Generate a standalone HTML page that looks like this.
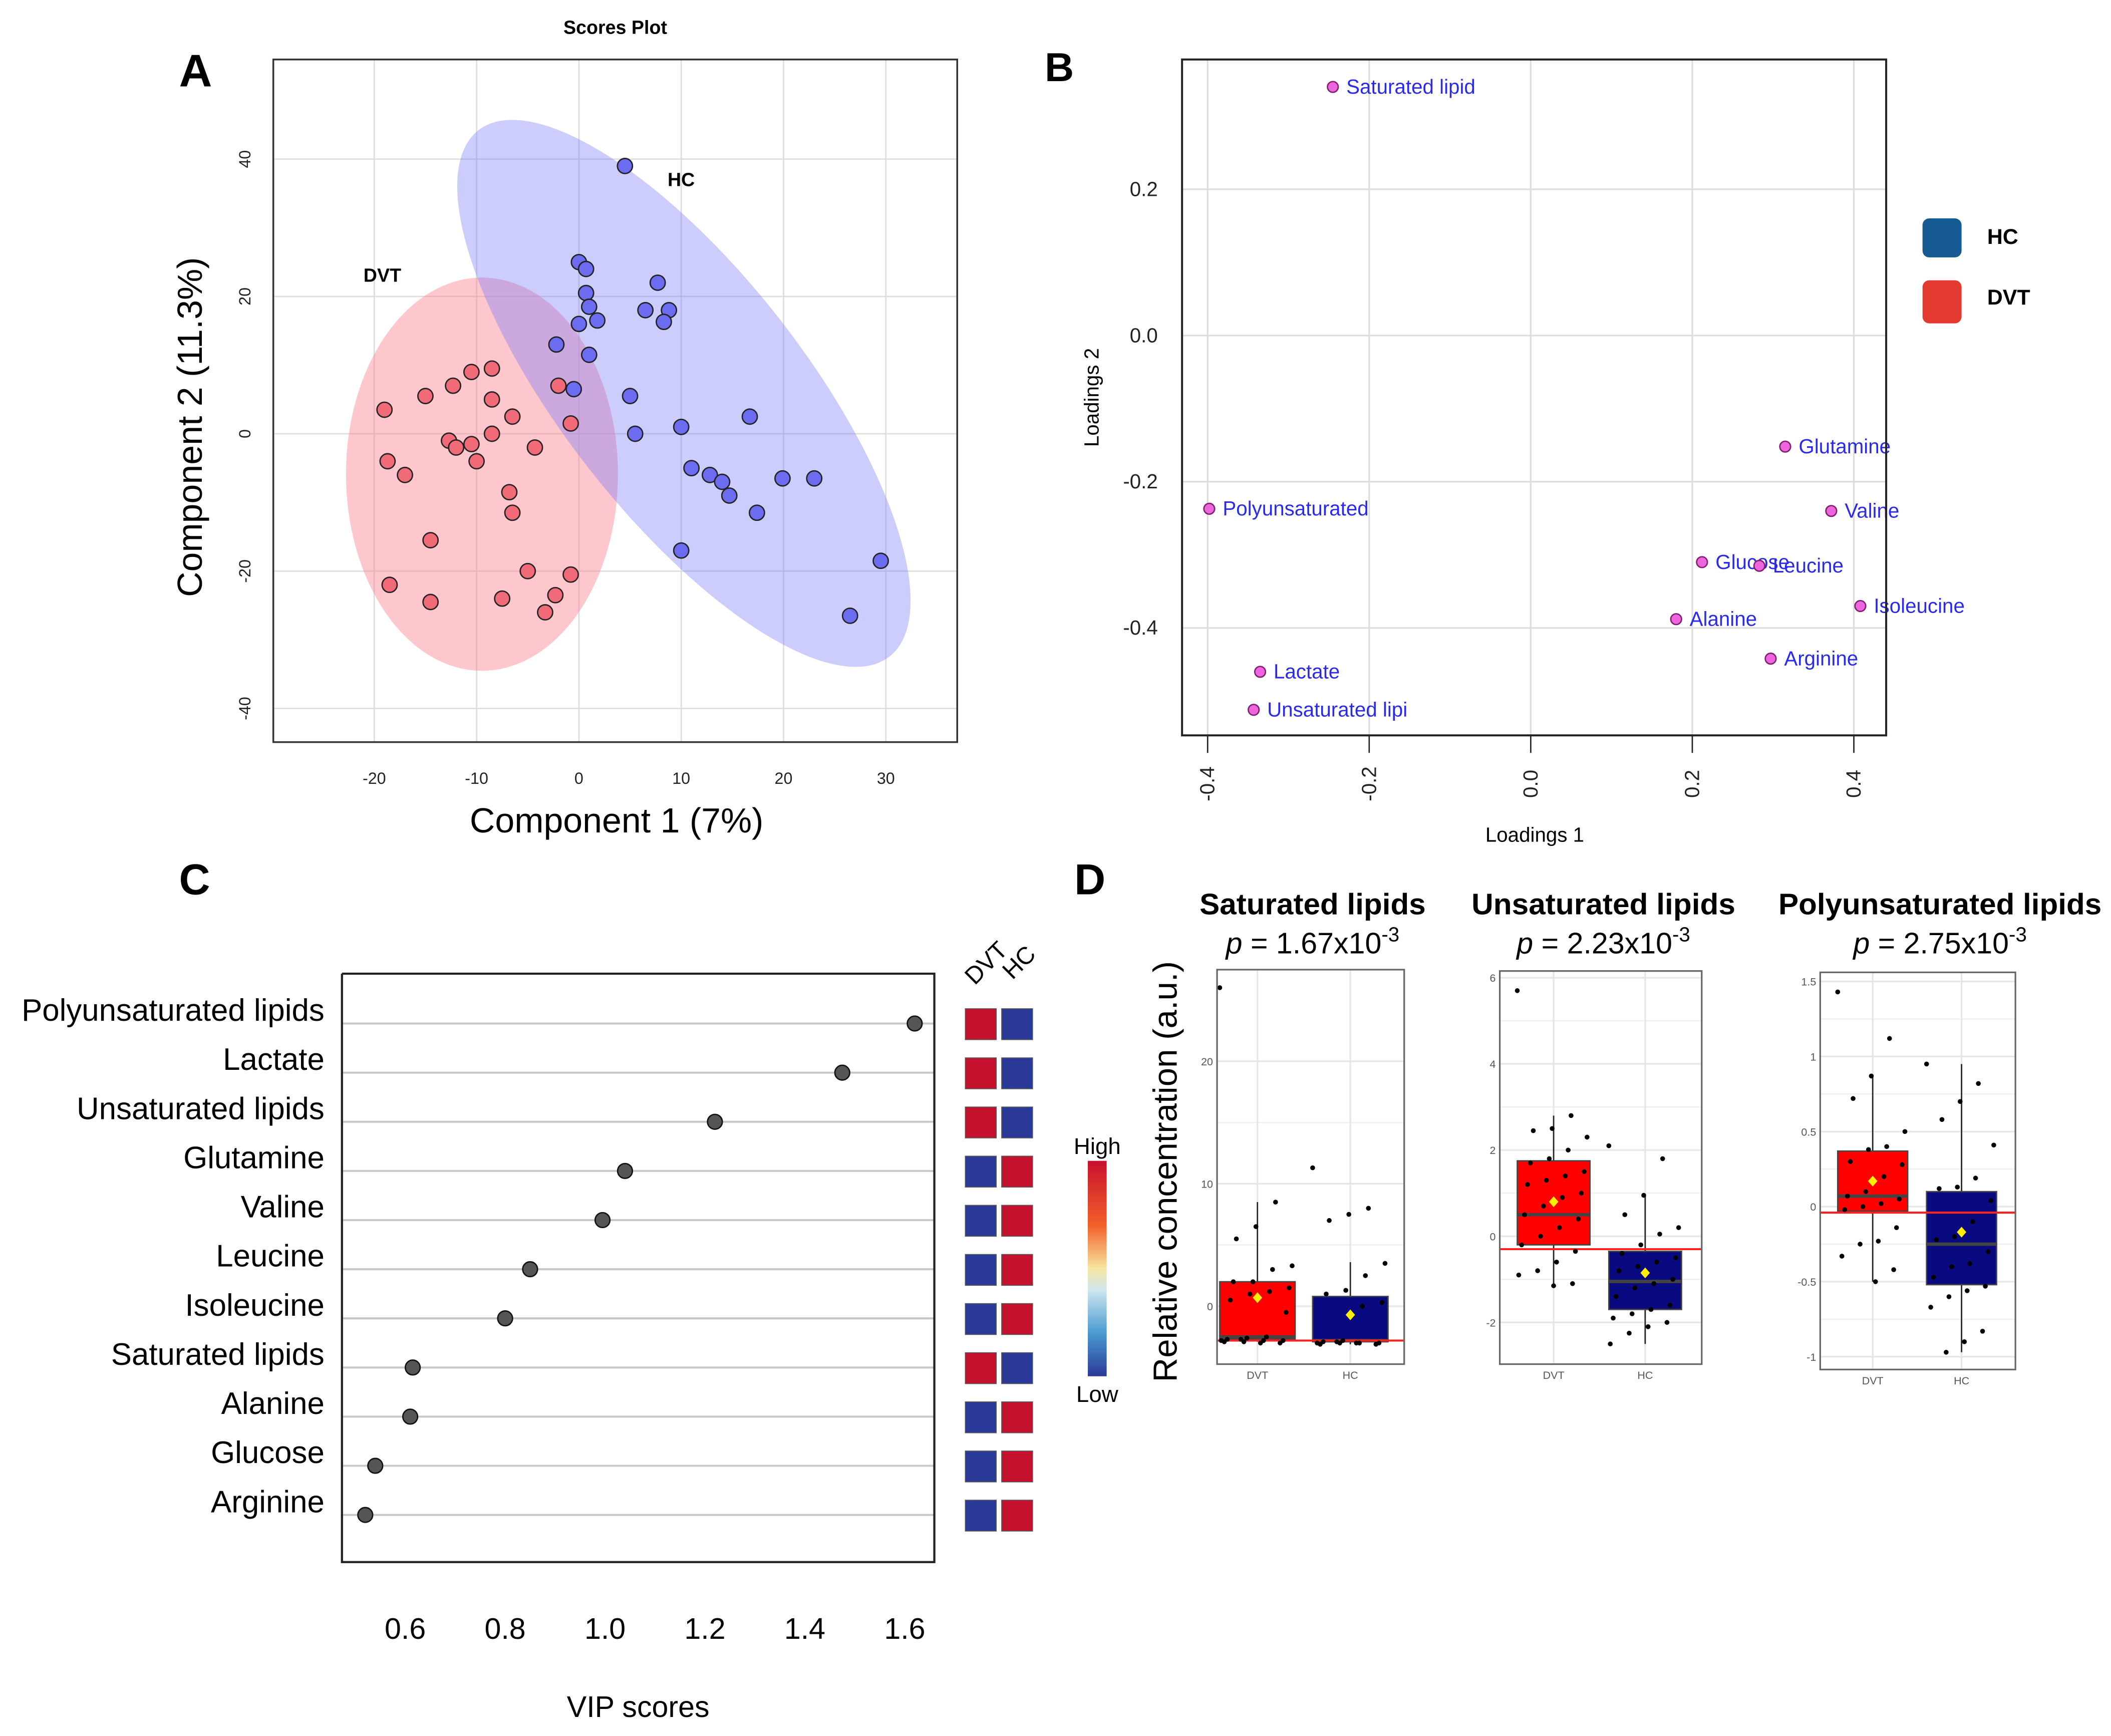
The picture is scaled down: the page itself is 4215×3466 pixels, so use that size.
<!DOCTYPE html>
<html><head><meta charset="utf-8"><style>
html,body{margin:0;padding:0;background:#fff;}
svg{display:block;font-family:"Liberation Sans",sans-serif;}
</style></head><body>
<svg id="fig" width="4215" height="3466" viewBox="0 0 1568 1289" xmlns="http://www.w3.org/2000/svg">
<rect width="1568" height="1289" fill="#fff"/>
<text x="133" y="64" font-size="34" font-weight="bold">A</text>
<text x="776" y="60" font-size="30" font-weight="bold">B</text>
<text x="133" y="664" font-size="32" font-weight="bold">C</text>
<text x="798" y="664" font-size="32" font-weight="bold">D</text>
<g id="A"></g><g id="B"></g><g id="C"></g><g id="D"></g>
</svg>
<script>
const NS="http://www.w3.org/2000/svg";
function mk(tag,attrs,parent,txt){const e=document.createElementNS(NS,tag);for(const k in attrs)e.setAttribute(k,attrs[k]);if(txt!==undefined)e.textContent=txt;parent.appendChild(e);return e;}

/* ---------- Panel A data ---------- */
const dvtX=[-19,-18.7,-17,-18.5,-15,-14.5,-14.5,-12.3,-12.7,-12,-10.5,-10.5,-10,-8.5,-8.5,-8.5,-6.5,-6.8,-6.5,-7.5,-5,-4.3,-3.3,-2.3,-0.8,-0.8,-2];
const dvtY=[3.5,-4,-6,-22,5.5,-15.5,-24.5,7,-1,-2,9,-1.5,-4,9.5,5,0,2.5,-8.5,-11.5,-24,-20,-2,-26,-23.5,-20.5,1.5,7];
const hcX=[4.5,0,0.7,0.7,1,0,1.8,-2.2,1,-0.5,5,5.5,7.7,6.5,8.8,8.3,10,11,12.8,14,14.7,17.4,16.7,19.9,23,10,29.5,26.5];
const hcY=[39,25,24,20.5,18.5,16,16.5,13,11.5,6.5,5.5,0,22,18,18,16.3,1,-5,-6,-7,-9,-11.5,2.5,-6.5,-6.5,-17,-18.5,-26.5];
const aXTicks=[-20,-10,0,10,20,30];
const aYTicks=[-40,-20,0,20,40];

/* ---------- Panel B data ---------- */
const loadNames=["Saturated lipid","Polyunsaturated","Lactate","Unsaturated lipi","Glutamine","Valine","Glucose","Leucine","Isoleucine","Alanine","Arginine"];
const load1=[-0.245,-0.398,-0.335,-0.343,0.315,0.372,0.212,0.283,0.408,0.18,0.297];
const load2=[0.34,-0.237,-0.46,-0.512,-0.152,-0.24,-0.31,-0.315,-0.37,-0.388,-0.442];
const bXTicks=[-0.4,-0.2,0.0,0.2,0.4];
const bYTicks=[0.2,0.0,-0.2,-0.4];

/* ---------- Panel C data ---------- */
const vipNames=["Polyunsaturated lipids","Lactate","Unsaturated lipids","Glutamine","Valine","Leucine","Isoleucine","Saturated lipids","Alanine","Glucose","Arginine"];
const vipScores=[1.62,1.475,1.22,1.04,0.995,0.85,0.80,0.615,0.61,0.54,0.52];
const vipDvtHigh=[1,1,1,0,0,0,0,1,0,0,0];
const vipTicks=[0.6,0.8,1.0,1.2,1.4,1.6];

/* ---------- Panel D data ---------- */
const dTitles=["Saturated lipids","Unsaturated lipids","Polyunsaturated lipids"];
const dP=["1.67","2.23","2.75"];
const dTicks=[[0,10,20],[-2,0,2,4,6],[-1.0,-0.5,0.0,0.5,1.0,1.5]];
const dDvtBox=[[-2.7,-2.5,2.0,-2.9,8.5,0.7],[-0.2,0.5,1.75,-1.1,2.8,0.8],[-0.03,0.07,0.37,-0.5,0.87,0.17]];
const dHcBox=[[-2.9,-2.8,0.8,-3.1,3.6,-0.7],[-1.7,-1.05,-0.35,-2.5,0.95,-0.85],[-0.52,-0.25,0.1,-0.97,0.95,-0.17]];
const dRedLine=[-2.8,-0.3,-0.04];
const dDvtPts=[[26,8.5,6.5,5.5,3.3,3,2,2,1.5,1.2,1,0.5,-0.5,-2.5,-2.6,-2.7,-2.8,-2.8,-2.9,-2.9,-3,-3,-2.7,-2.8],
 [5.7,2.8,2.5,2.45,2.3,2,1.8,1.7,1.5,1.4,1.3,1.2,1.0,0.9,0.7,0.5,0.4,0.2,0,-0.2,-0.35,-0.6,-0.8,-0.9,-1.1,-1.15],
 [1.43,1.12,0.87,0.72,0.5,0.4,0.38,0.3,0.28,0.2,0.1,0.07,0.05,0.02,0,-0.02,-0.14,-0.23,-0.25,-0.33,-0.42,-0.5]];
const dHcPts=[[11.3,8,7.5,7,3.5,2.5,1.3,1,0.3,0,-2.8,-2.9,-3,-3,-3,-3.1,-3.1,-3,-2.9,-3],
 [2.1,1.8,0.95,0.5,0.2,0.05,-0.2,-0.4,-0.5,-0.6,-0.7,-0.8,-1,-1.1,-1.2,-1.4,-1.6,-1.7,-1.8,-1.9,-2.0,-2.1,-2.25,-2.5],
 [0.95,0.82,0.7,0.58,0.41,0.19,0.13,0.12,0.04,-0.1,-0.2,-0.22,-0.3,-0.38,-0.4,-0.47,-0.53,-0.56,-0.6,-0.67,-0.83,-0.9,-0.97]];

/* ================= Panel A ================= */
(function(){
const g=document.getElementById('A');
const L=203,R=711,T=44,B=551;
const sx=v=>430+v*7.6, sy=v=>322-v*5.1;
let e;
e=mk('text',{x:457,y:25,'font-size':14,'font-weight':'bold','text-anchor':'middle'},g,'Scores Plot');

aXTicks.forEach(t=>{mk('line',{x1:sx(t),x2:sx(t),y1:T,y2:B,stroke:'#ddd','stroke-width':1},g);
 e=mk('text',{x:sx(t),y:582,'font-size':12,'text-anchor':'middle',fill:'#222'},g,t);
 });
aYTicks.forEach(t=>{mk('line',{x1:L,x2:R,y1:sy(t),y2:sy(t),stroke:'#ddd','stroke-width':1},g);
 e=mk('text',{x:186,y:sy(t),'font-size':12,'text-anchor':'middle',fill:'#222',transform:`rotate(-90 186 ${sy(t)})`},g,t);
 });
e=mk('ellipse',{cx:358,cy:352,rx:101,ry:146,fill:'rgba(250,130,145,0.45)'},g);

e=mk('ellipse',{cx:508,cy:292,rx:248,ry:90,fill:'rgba(120,120,250,0.38)',transform:'rotate(52 508 292)'},g);

dvtX.forEach((x,i)=>{e=mk('circle',{cx:sx(x),cy:sy(dvtY[i]),r:5.6,fill:'#f06a78',stroke:'#222','stroke-width':1},g);
 });
hcX.forEach((x,i)=>{e=mk('circle',{cx:sx(x),cy:sy(hcY[i]),r:5.6,fill:'#6c6cf0',stroke:'#222','stroke-width':1},g);
 });
e=mk('rect',{x:L,y:T,width:R-L,height:B-T,fill:'none',stroke:'#333','stroke-width':1.3},g);

e=mk('text',{x:506,y:138,'font-size':14,'font-weight':'bold','text-anchor':'middle'},g,'HC');

e=mk('text',{x:284,y:209,'font-size':14,'font-weight':'bold','text-anchor':'middle'},g,'DVT');

e=mk('text',{x:458,y:618,'font-size':26,'text-anchor':'middle'},g,'Component 1 (7%)');

e=mk('text',{x:150,y:317,'font-size':26,'text-anchor':'middle',transform:'rotate(-90 150 317)'},g,'Component 2 (11.3%)');

})();

/* ================= Panel B ================= */
(function(){
const g=document.getElementById('B');
const L=878,R=1401,T=44,B=546;
const sx=v=>1137+v*600, sy=v=>249-v*543;
let e;
bXTicks.forEach(t=>{mk('line',{x1:sx(t),x2:sx(t),y1:T,y2:B,stroke:'#ddd','stroke-width':1.2},g);
 mk('line',{x1:sx(t),x2:sx(t),y1:B,y2:B+13,stroke:'#222','stroke-width':1},g);
 e=mk('text',{x:sx(t)+5,y:582,'font-size':15,'text-anchor':'middle',fill:'#222',transform:`rotate(-90 ${sx(t)+5} 582)`},g,t.toFixed(1));
 });
bYTicks.forEach(t=>{mk('line',{x1:L,x2:R,y1:sy(t),y2:sy(t),stroke:'#ddd','stroke-width':1.2},g);
 e=mk('text',{x:860,y:sy(t)+5,'font-size':15,'text-anchor':'end',fill:'#222'},g,t.toFixed(1));
 });
load1.forEach((x,i)=>{e=mk('circle',{cx:sx(x),cy:sy(load2[i]),r:4,fill:'#ee66dd',stroke:'#802070','stroke-width':1},g);
 
 e=mk('text',{x:sx(x)+10,y:sy(load2[i])+5,'font-size':15,fill:'#2a2aee'},g,loadNames[i]);
 });
e=mk('rect',{x:L,y:T,width:R-L,height:B-T,fill:'none',stroke:'#222','stroke-width':1.5},g);

e=mk('text',{x:1140,y:625,'font-size':15,'text-anchor':'middle'},g,'Loadings 1');

e=mk('text',{x:816,y:295,'font-size':15,'text-anchor':'middle',transform:'rotate(-90 816 295)'},g,'Loadings 2');

e=mk('rect',{x:1428,y:162,width:29,height:29,rx:5,fill:'#155a92'},g);

e=mk('text',{x:1476,y:181,'font-size':16,'font-weight':'bold'},g,'HC');

e=mk('rect',{x:1428,y:208,width:29,height:32,rx:5,fill:'#e23a30'},g);

e=mk('text',{x:1476,y:226,'font-size':16,'font-weight':'bold'},g,'DVT');

})();

/* ================= Panel C ================= */
(function(){
const g=document.getElementById('C');
const L=254,R=694,T=723,B=1160;
const sx=v=>301+(v-0.6)*371;
const rowY=i=>760+i*36.5;
let e;
vipNames.forEach((n,i)=>{const y=rowY(i);
 mk('line',{x1:L,x2:R,y1:y,y2:y,stroke:'#c8c8c8','stroke-width':1.5},g);
 e=mk('text',{x:241,y:y-2,'font-size':23,'text-anchor':'end'},g,n);
 
 e=mk('circle',{cx:sx(vipScores[i]),cy:y,r:5.5,fill:'#555',stroke:'#111','stroke-width':1},g);
 
 const red='#c4122e',blue='#2b3a98';
 e=mk('rect',{x:717,y:y-11,width:23,height:23,fill:vipDvtHigh[i]?red:blue,stroke:'#555','stroke-width':0.6},g);
 
 e=mk('rect',{x:744,y:y-11,width:23,height:23,fill:vipDvtHigh[i]?blue:red,stroke:'#555','stroke-width':0.6},g);
 
});
e=mk('polyline',{points:`${L},${T} ${R},${T} ${R},${B} ${L},${B} ${L},${T}`,fill:'none',stroke:'#222','stroke-width':1.6},g);

vipTicks.forEach(t=>{e=mk('text',{x:sx(t),y:1217,'font-size':22,'text-anchor':'middle'},g,t.toFixed(1));
 });
e=mk('text',{x:474,y:1275,'font-size':22,'text-anchor':'middle'},g,'VIP scores');

e=mk('text',{x:724,y:732,'font-size':18,transform:'rotate(-45 724 732)'},g,'DVT');

e=mk('text',{x:752,y:728,'font-size':18,transform:'rotate(-45 752 728)'},g,'HC');

const defs=mk('defs',{},g);
const lg=mk('linearGradient',{id:'cb',x1:0,y1:0,x2:0,y2:1},defs);
[['0','#c8102e'],['0.3','#f2602a'],['0.5','#f6e6a0'],['0.6','#cfe6ef'],['0.8','#4a9ad0'],['1','#2b3a98']].forEach(s=>mk('stop',{offset:s[0],'stop-color':s[1]},lg));
e=mk('rect',{x:808,y:862,width:14,height:160,fill:'url(#cb)'},g);

e=mk('text',{x:815,y:857,'font-size':17,'text-anchor':'middle'},g,'High');

e=mk('text',{x:815,y:1041,'font-size':17,'text-anchor':'middle'},g,'Low');

})();

/* ================= Panel D ================= */
(function(){
const g=document.getElementById('D');
const frames=[[904,1043,720,1013],[1114,1264,721,1013],[1352,1497,722,1017]];
const zeroY=[970,918,896], scale=[9.1,32,111.5];
const catX=[[934,1003],[1154,1222],[1391,1457]];
const bw=[56,54,52];
const titleX=[975,1191,1441];
const titleW=[168,196,240];
let e;
e=mk('text',{x:874,y:870,'font-size':25,'text-anchor':'middle',transform:'rotate(-90 874 870)'},g,'Relative concentration (a.u.)');

dTitles.forEach((t,k)=>{
 const [L,R,T,B]=frames[k]; const sy=v=>zeroY[k]-v*scale[k];
 e=mk('text',{x:titleX[k],y:679,'font-size':22,'font-weight':'bold','text-anchor':'middle',textLength:titleW[k],lengthAdjust:'spacingAndGlyphs'},g,t);
 
 e=mk('text',{x:titleX[k],y:708,'font-size':22,'text-anchor':'middle'},g);
 
 mk('tspan',{'font-style':'italic'},e,'p');
 mk('tspan',{},e,' = '+dP[k]+'x10');
 mk('tspan',{dy:-9,'font-size':15},e,'-3');
 mk('rect',{x:L,y:T,width:R-L,height:B-T,fill:'#fff'},g);
 dTicks[k].forEach(tk=>{mk('line',{x1:L,x2:R,y1:sy(tk),y2:sy(tk),stroke:'#e6e6e6','stroke-width':1.2},g);
  e=mk('text',{x:L-3,y:sy(tk)+3,'font-size':8,'text-anchor':'end',fill:'#555'},g,tk);
  });
 for(let j=0;j<dTicks[k].length-1;j++){const m=(dTicks[k][j]+dTicks[k][j+1])/2;mk('line',{x1:L,x2:R,y1:sy(m),y2:sy(m),stroke:'#f0f0f0','stroke-width':1},g);}
 catX[k].forEach(cx=>mk('line',{x1:cx,x2:cx,y1:T,y2:B,stroke:'#e6e6e6','stroke-width':1.2},g));
 [[dDvtBox[k],'#ff0000','dvt'],[dHcBox[k],'#0a0a80','hc']].forEach(([bx,col,nm],gi)=>{
  const cx=catX[k][gi];
  e=mk('line',{x1:cx,x2:cx,y1:sy(bx[4]),y2:sy(bx[3]),stroke:'#222','stroke-width':1},g);
  
  e=mk('rect',{x:cx-bw[k]/2,y:sy(bx[2]),width:bw[k],height:sy(bx[0])-sy(bx[2]),fill:col,stroke:'#444','stroke-width':1},g);
  
  e=mk('line',{x1:cx-bw[k]/2,x2:cx+bw[k]/2,y1:sy(bx[1]),y2:sy(bx[1]),stroke:'#444','stroke-width':2.5},g);
  
 });
 e=mk('line',{x1:L,x2:R,y1:sy(dRedLine[k]),y2:sy(dRedLine[k]),stroke:'#ff2020','stroke-width':1.5},g);
 
 [dDvtPts[k],dHcPts[k]].forEach((pts,gi)=>{
  pts.forEach((v,i)=>{const off=((i*37)%50-25)/25*bw[k]*0.5;
   e=mk('circle',{cx:catX[k][gi]+off,cy:sy(v),r:1.8,fill:'#000'},g);
   });
 });
 [dDvtBox[k],dHcBox[k]].forEach((bx,gi)=>{const cx=catX[k][gi],cy=sy(bx[5]);
  e=mk('polygon',{points:`${cx},${cy-4} ${cx+3.5},${cy} ${cx},${cy+4} ${cx-3.5},${cy}`,fill:'#ffee00'},g);
  });
 e=mk('rect',{x:L,y:T,width:R-L,height:B-T,fill:'none',stroke:'#666','stroke-width':1.2},g);
 
 ['DVT','HC'].forEach((c,gi)=>{e=mk('text',{x:catX[k][gi],y:B+11,'font-size':8,'text-anchor':'middle',fill:'#555'},g,c);
  });
});
})();
</script>
</body></html>
